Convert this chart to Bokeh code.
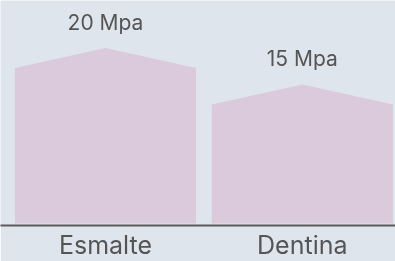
from bokeh.plotting import figure
from bokeh.models import Range1d, FixedTicker, ColumnDataSource
from bokeh.core.properties import value
from bokeh.embed import file_html
from bokeh.resources import INLINE

categories = ["Esmalte", "Dentina"]
strength = [20, 15]
value_labels = ["20 Mpa", "15 Mpa"]

BG = "#dfe5ed"
BAR = "#dbc9dc"
TXT = "#555555"

y_start = -1.57
base = -1.3
half = 0.46
peak = 2.74

xs, ys, lx, ly = [], [], [], []
for i, v in enumerate(strength):
    xs.append([i - half, i - half, i, i + half, i + half])
    ys.append([base, v, v + peak, v, base])
    lx.append(i)
    ly.append(v + peak)

p = figure(width=395, height=261, output_backend="svg", toolbar_location=None,
           x_range=Range1d(-0.5335, 1.4736), y_range=Range1d(y_start, 29.25),
           min_border_left=0, min_border_right=0, min_border_top=0, min_border_bottom=0,
           frame_width=395, frame_height=225)
p.styles = {"position": "fixed", "left": "0px", "top": "0px"}
p.background_fill_color = BG
p.border_fill_color = BG
p.outline_line_color = None
p.grid.visible = False
p.yaxis.visible = False

p.patches(xs=xs, ys=ys, fill_color=BAR, line_color=None)

src = ColumnDataSource(dict(x=lx, y=ly, t=value_labels))
p.text(x="x", y="y", text="t", source=src, text_align="center", text_baseline="middle",
       y_offset=-26, text_font=value("Inter"), text_font_size="21px", text_color=TXT)

ax = p.xaxis[0]
ax.ticker = FixedTicker(ticks=list(range(len(categories))))
ax.major_label_overrides = {i: c for i, c in enumerate(categories)}
ax.axis_line_color = "#5c5c5c"
ax.axis_line_width = 2
ax.major_tick_line_color = None
ax.minor_tick_line_color = None
ax.major_tick_out = 0
ax.major_tick_in = 0
ax.major_label_standoff = 4
ax.major_label_text_font = "Inter"
ax.major_label_text_font_size = "25px"
ax.major_label_text_color = TXT

open("out.html", "w").write(file_html(p, INLINE))
